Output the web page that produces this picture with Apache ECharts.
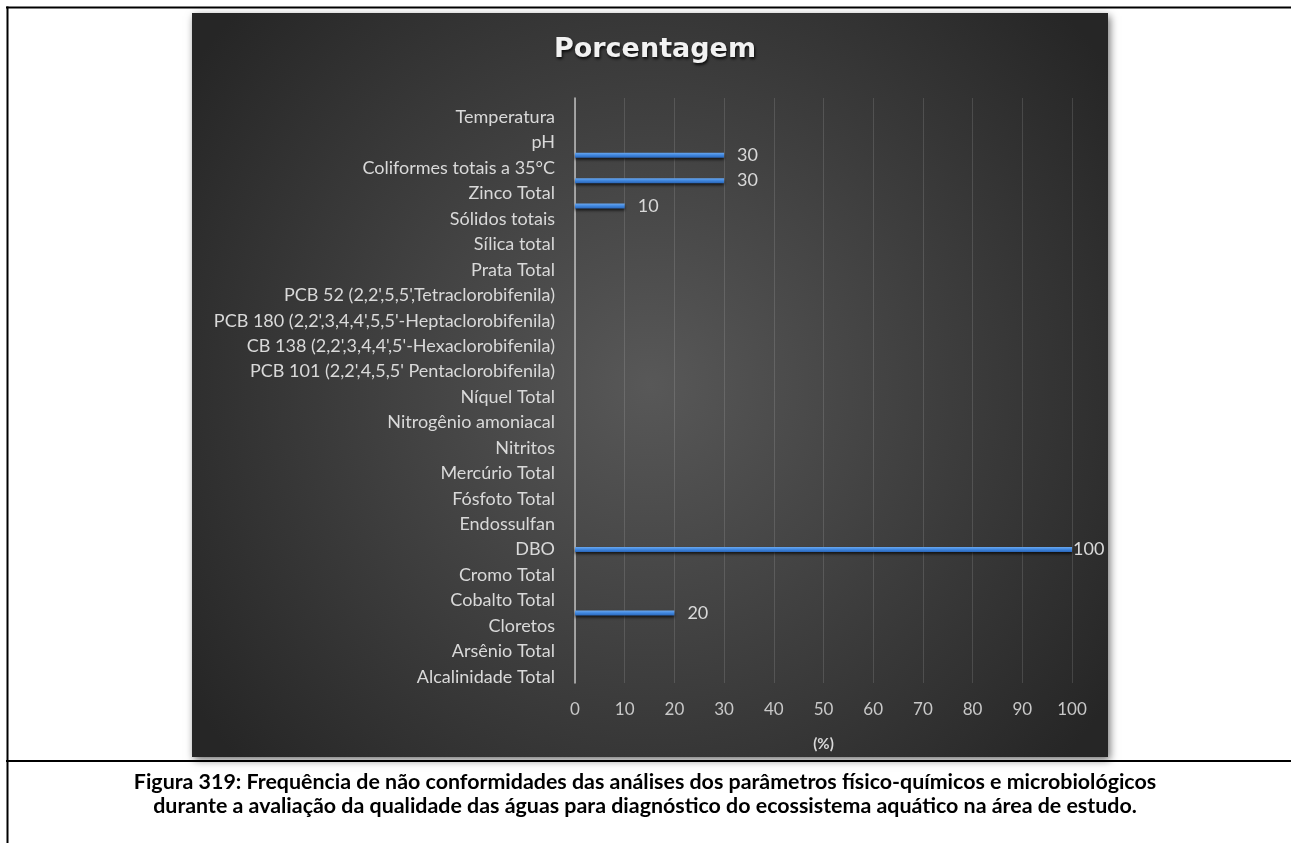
<!DOCTYPE html>
<html>
<head>
<meta charset="utf-8">
<script src="https://cdn.jsdelivr.net/npm/echarts@6/dist/echarts.min.js"></script>
<style>
html,body{margin:0;padding:0;background:#fff;}
#chart{width:1291px;height:843px;}
</style>
</head>
<body>
<div id="chart"></div>
<script>
// Category labels, top to bottom
const categories = [
  'Temperatura', 'pH', 'Coliformes totais a 35°C', 'Zinco Total', 'Sólidos totais',
  'Sílica total', 'Prata Total', "PCB 52 (2,2',5,5',Tetraclorobifenila)",
  "PCB 180 (2,2',3,4,4',5,5'-Heptaclorobifenila)", "CB 138 (2,2',3,4,4',5'-Hexaclorobifenila)",
  "PCB 101 (2,2',4,5,5' Pentaclorobifenila)", 'Níquel Total', 'Nitrogênio amoniacal',
  'Nitritos', 'Mercúrio Total', 'Fósfoto Total', 'Endossulfan', 'DBO', 'Cromo Total',
  'Cobalto Total', 'Cloretos', 'Arsênio Total', 'Alcalinidade Total'
];
// Bars drawn half a row above each label (as in the picture)
const valuesAboveLabel = [null, null, 30, 30, 10, null, null, null, null, null, null, null,
  null, null, null, null, null, null, null, null, 20, null, null];
// Bars drawn on the label row
const valuesOnLabel = [null, null, null, null, null, null, null, null, null, null, null, null,
  null, null, null, null, null, 100, null, null, null, null, null];
const xTicks = [0, 10, 20, 30, 40, 50, 60, 70, 80, 90, 100];
const titleText = 'Porcentagem';
const axisName = '(%)';
const captionLines = [
  'Figura 319: Frequência de não conformidades das análises dos parâmetros físico-químicos e microbiológicos',
  'durante a avaliação da qualidade das águas para diagnóstico do ecossistema aquático na área de estudo.'
];

const xMin = xTicks[0], xMax = xTicks[xTicks.length - 1];
const xStep = xTicks[1] - xTicks[0];

// half-row slots: for each category, [above, on]
const slotNames = [];
const slotValues = [];
categories.forEach((c, i) => {
  slotNames.push('above: ' + c);
  slotNames.push(c);
  slotValues.push(valuesAboveLabel[i]);
  slotValues.push(valuesOnLabel[i]);
});
const barData = slotValues.map(v => {
  if (v === null) return null;
  if (v >= xMax) return { value: v, label: { distance: 1 } };
  return v;
});

const chart = echarts.init(document.getElementById('chart'), null, { renderer: 'canvas' });

const option = {
  backgroundColor: '#ffffff',
  animation: false,
  title: {
    text: titleText,
    left: 650,
    textAlign: 'center',
    top: 31,
    textStyle: {
      color: '#f2f2f2',
      fontFamily: 'DejaVu Sans',
      fontWeight: 'bold',
      fontSize: 27,
      textShadowColor: 'rgba(0,0,0,0.8)',
      textShadowBlur: 3,
      textShadowOffsetX: 1,
      textShadowOffsetY: 2
    }
  },
  grid: {
    left: 575,
    right: 219,
    top: 98,
    bottom: 160,
    containLabel: false
  },
  xAxis: {
    type: 'value',
    min: xMin,
    max: xMax,
    interval: xStep,
    name: axisName,
    nameLocation: 'middle',
    nameGap: 54,
    nameTextStyle: {
      color: '#d9d9d9',
      fontFamily: 'Lato',
      fontWeight: 'bold',
      fontSize: 15
    },
    axisLine: { show: false },
    axisTick: { show: false },
    axisLabel: {
      color: '#c8c8c8',
      fontFamily: 'Lato',
      fontSize: 17,
      margin: 18
    },
    splitLine: {
      show: true,
      lineStyle: { color: 'rgba(255,255,255,0.13)', width: 1 }
    }
  },
  yAxis: [
    {
      type: 'category',
      data: categories,
      inverse: true,
      boundaryGap: true,
      axisLine: { show: true, lineStyle: { color: '#bfbfbf', width: 1.5 } },
      axisTick: { show: false },
      axisLabel: {
        color: '#d9d9d9',
        fontFamily: 'Lato',
        fontSize: 18,
        margin: 20,
        verticalAlign: 'top',
        lineHeight: 13,
        interval: 0
      },
      splitLine: { show: false }
    },
    {
      type: 'category',
      data: slotNames,
      inverse: true,
      boundaryGap: true,
      show: false,
      position: 'left'
    }
  ],
  series: [
    {
      type: 'bar',
      yAxisIndex: 1,
      data: barData,
      barWidth: 5,
      itemStyle: {
        color: {
          type: 'linear', x: 0, y: 0, x2: 0, y2: 1,
          colorStops: [
            { offset: 0, color: '#6aa8f0' },
            { offset: 0.5, color: '#3f86de' },
            { offset: 1, color: '#2a66b8' }
          ]
        },
        shadowColor: 'rgba(0,0,0,0.7)',
        shadowBlur: 3,
        shadowOffsetY: 2
      },
      label: {
        show: true,
        position: 'right',
        distance: 13,
        color: '#d9d9d9',
        fontFamily: 'Lato',
        fontSize: 18
      }
    }
  ],
  graphic: {
    elements: [
      {
        type: 'rect',
        z: -10,
        shape: { x: 192, y: 13, width: 916, height: 744 },
        style: {
          fill: {
            type: 'radial', x: 0.5, y: 0.5, r: 0.75,
            colorStops: [
              { offset: 0, color: '#585858' },
              { offset: 1, color: '#262626' }
            ]
          },
          shadowColor: 'rgba(0,0,0,0.55)',
          shadowBlur: 8,
          shadowOffsetX: 2,
          shadowOffsetY: 3
        }
      },
      {
        type: 'line', z: 100,
        shape: { x1: 6, y1: 7.5, x2: 1291, y2: 7.5 },
        style: { stroke: '#000', lineWidth: 2 }
      },
      {
        type: 'line', z: 100,
        shape: { x1: 7.5, y1: 6.5, x2: 7.5, y2: 843 },
        style: { stroke: '#000', lineWidth: 2 }
      },
      {
        type: 'line', z: 100,
        shape: { x1: 6, y1: 761, x2: 1291, y2: 761 },
        style: { stroke: '#000', lineWidth: 2 }
      },
      {
        type: 'text', z: 100,
        x: 645, y: 782,
        style: {
          text: captionLines[0],
          fill: '#000',
          font: 'bold 21.4px Lato',
          align: 'center',
          verticalAlign: 'middle'
        }
      },
      {
        type: 'text', z: 100,
        x: 645, y: 806,
        style: {
          text: captionLines[1],
          fill: '#000',
          font: 'bold 21.4px Lato',
          align: 'center',
          verticalAlign: 'middle'
        }
      }
    ]
  }
};
chart.setOption(option);
</script>
</body>
</html>
